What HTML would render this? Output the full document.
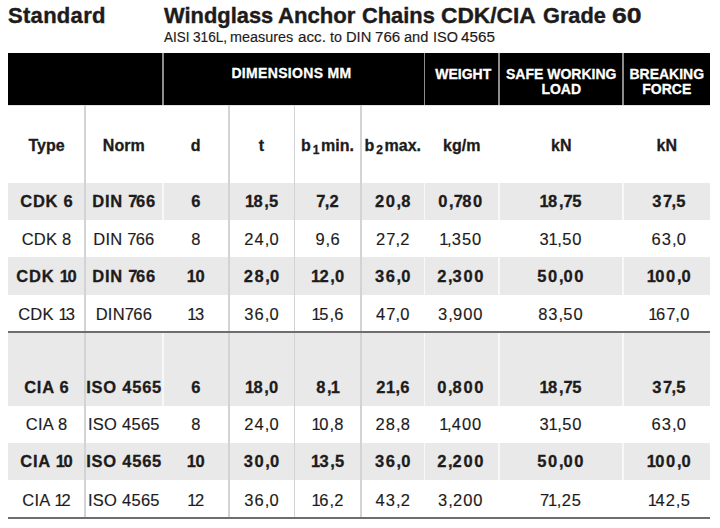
<!DOCTYPE html>
<html><head><meta charset="utf-8"><style>
html,body{margin:0;padding:0;background:#fff;width:720px;height:528px;overflow:hidden;position:relative}
body>div{position:absolute}
.t{font-family:"Liberation Sans",sans-serif;text-align:center;white-space:nowrap}
sub{font-size:0.75em;vertical-align:baseline;position:relative;top:0.3em;line-height:0;margin:0 1.5px 0 2px}
</style></head><body>
<div style="left:8px;top:53px;width:702px;height:52px;background:#000;"></div>
<div style="left:8px;top:105px;width:702px;height:1px;background:#e4e4e4;"></div>
<div style="left:8px;top:183px;width:702px;height:37px;background:#e9e9e9;"></div>
<div style="left:8px;top:257px;width:702px;height:37.5px;background:#e9e9e9;"></div>
<div style="left:8px;top:333px;width:702px;height:72.5px;background:#e9e9e9;"></div>
<div style="left:8px;top:443px;width:702px;height:37px;background:#e9e9e9;"></div>
<div style="left:84px;top:105px;width:2px;height:412px;background:#d2d3d7;"></div>
<div style="left:228px;top:105px;width:2px;height:412px;background:#d2d3d7;"></div>
<div style="left:293.8px;top:105px;width:1.4px;height:412px;background:#d2d3d7;"></div>
<div style="left:360px;top:105px;width:1.6px;height:412px;background:#d2d3d7;"></div>
<div style="left:162px;top:53px;width:1.6px;height:52px;background:#8c8c8c;"></div>
<div style="left:162px;top:183px;width:1.6px;height:37px;background:#f8f8f8;"></div>
<div style="left:162px;top:333px;width:1.6px;height:72.5px;background:#f8f8f8;"></div>
<div style="left:424px;top:53px;width:1.2px;height:52px;background:#8c8c8c;"></div>
<div style="left:424px;top:183px;width:1.2px;height:37px;background:#f8f8f8;"></div>
<div style="left:424px;top:257px;width:1.2px;height:37.5px;background:#f8f8f8;"></div>
<div style="left:424px;top:333px;width:1.2px;height:72.5px;background:#f8f8f8;"></div>
<div style="left:424px;top:443px;width:1.2px;height:37px;background:#f8f8f8;"></div>
<div style="left:498px;top:53px;width:1.8px;height:52px;background:#8c8c8c;"></div>
<div style="left:498px;top:183px;width:1.8px;height:37px;background:#f8f8f8;"></div>
<div style="left:498px;top:257px;width:1.8px;height:37.5px;background:#f8f8f8;"></div>
<div style="left:498px;top:333px;width:1.8px;height:72.5px;background:#f8f8f8;"></div>
<div style="left:498px;top:443px;width:1.8px;height:37px;background:#f8f8f8;"></div>
<div style="left:622px;top:53px;width:1.8px;height:52px;background:#8c8c8c;"></div>
<div style="left:622px;top:183px;width:1.8px;height:37px;background:#f8f8f8;"></div>
<div style="left:622px;top:257px;width:1.8px;height:37.5px;background:#f8f8f8;"></div>
<div style="left:622px;top:333px;width:1.8px;height:72.5px;background:#f8f8f8;"></div>
<div style="left:622px;top:443px;width:1.8px;height:37px;background:#f8f8f8;"></div>
<div style="left:8px;top:331px;width:702px;height:2px;background:#6e6e6e;"></div>
<div style="left:8px;top:517px;width:702px;height:2px;background:#6e6e6e;"></div>
<div class="t" style="left:8px;top:5.3px;white-space:nowrap;font-size:22px;line-height:22px;font-weight:700;color:#1d1b1b;text-align:left;letter-spacing:0.3px;-webkit-text-stroke:0.4px #1d1b1b;">Standard</div>
<div class="t" style="left:163.50px;top:5.4px;font-size:22px;line-height:22px;font-weight:700;color:#1d1b1b;text-align:left;transform:scaleX(0.9945);transform-origin:0 0;-webkit-text-stroke:0.4px #1d1b1b;">Windglass</div>
<div class="t" style="left:277.99px;top:5.4px;font-size:22px;line-height:22px;font-weight:700;color:#1d1b1b;text-align:left;transform:scaleX(1.0053);transform-origin:0 0;-webkit-text-stroke:0.4px #1d1b1b;">Anchor</div>
<div class="t" style="left:361.71px;top:5.4px;font-size:22px;line-height:22px;font-weight:700;color:#1d1b1b;text-align:left;transform:scaleX(0.9931);transform-origin:0 0;-webkit-text-stroke:0.4px #1d1b1b;">Chains</div>
<div class="t" style="left:440.97px;top:5.4px;font-size:22px;line-height:22px;font-weight:700;color:#1d1b1b;text-align:left;transform:scaleX(1.0333);transform-origin:0 0;-webkit-text-stroke:0.4px #1d1b1b;">CDK/CIA</div>
<div class="t" style="left:542.76px;top:5.4px;font-size:22px;line-height:22px;font-weight:700;color:#1d1b1b;text-align:left;transform:scaleX(0.9879);transform-origin:0 0;-webkit-text-stroke:0.4px #1d1b1b;">Grade</div>
<div class="t" style="left:611.59px;top:5.4px;font-size:22px;line-height:22px;font-weight:700;color:#1d1b1b;text-align:left;transform:scaleX(1.2087);transform-origin:0 0;-webkit-text-stroke:0.4px #1d1b1b;">60</div>
<div class="t" style="left:163.75px;top:29.5px;font-size:14px;line-height:14px;font-weight:400;color:#1d1b1b;text-align:left;transform:scaleX(0.9600);transform-origin:0 0;-webkit-text-stroke:0.15px #1d1b1b;">AISI</div>
<div class="t" style="left:192.53px;top:29.5px;font-size:14px;line-height:14px;font-weight:400;color:#1d1b1b;text-align:left;transform:scaleX(0.9727);transform-origin:0 0;-webkit-text-stroke:0.15px #1d1b1b;">316L,</div>
<div class="t" style="left:230.47px;top:29.5px;font-size:14px;line-height:14px;font-weight:400;color:#1d1b1b;text-align:left;transform:scaleX(1.0267);transform-origin:0 0;-webkit-text-stroke:0.15px #1d1b1b;">measures</div>
<div class="t" style="left:298.31px;top:29.5px;font-size:14px;line-height:14px;font-weight:400;color:#1d1b1b;text-align:left;transform:scaleX(1.0870);transform-origin:0 0;-webkit-text-stroke:0.15px #1d1b1b;">acc.</div>
<div class="t" style="left:330.00px;top:29.5px;font-size:14px;line-height:14px;font-weight:400;color:#1d1b1b;text-align:left;transform:scaleX(1.0227);transform-origin:0 0;-webkit-text-stroke:0.15px #1d1b1b;">to</div>
<div class="t" style="left:345.85px;top:29.5px;font-size:14px;line-height:14px;font-weight:400;color:#1d1b1b;text-align:left;transform:scaleX(1.0500);transform-origin:0 0;-webkit-text-stroke:0.15px #1d1b1b;">DIN</div>
<div class="t" style="left:375.17px;top:29.5px;font-size:14px;line-height:14px;font-weight:400;color:#1d1b1b;text-align:left;transform:scaleX(1.0795);transform-origin:0 0;-webkit-text-stroke:0.15px #1d1b1b;">766</div>
<div class="t" style="left:403.96px;top:29.5px;font-size:14px;line-height:14px;font-weight:400;color:#1d1b1b;text-align:left;transform:scaleX(1.0429);transform-origin:0 0;-webkit-text-stroke:0.15px #1d1b1b;">and</div>
<div class="t" style="left:432.72px;top:29.5px;font-size:14px;line-height:14px;font-weight:400;color:#1d1b1b;text-align:left;transform:scaleX(1.0326);transform-origin:0 0;-webkit-text-stroke:0.15px #1d1b1b;">ISO</div>
<div class="t" style="left:461.25px;top:29.5px;font-size:14px;line-height:14px;font-weight:400;color:#1d1b1b;text-align:left;transform:scaleX(1.0887);transform-origin:0 0;-webkit-text-stroke:0.15px #1d1b1b;">4565</div>
<div class="t" style="left:158.5px;top:66.15px;width:266.0px;font-size:14px;line-height:14px;font-weight:700;color:#ffffff;letter-spacing:0.33px;text-indent:0px;-webkit-text-stroke:0.3px #ffffff;">DIMENSIONS MM</div>
<div class="t" style="left:427.5px;top:67.15px;width:71.5px;font-size:14px;line-height:14px;font-weight:700;color:#ffffff;letter-spacing:0px;text-indent:0px;-webkit-text-stroke:0.3px #ffffff;">WEIGHT</div>
<div class="t" style="left:499px;top:67.35px;width:124.5px;font-size:14px;line-height:14px;font-weight:700;color:#ffffff;letter-spacing:0px;text-indent:0px;-webkit-text-stroke:0.3px #ffffff;">SAFE WORKING</div>
<div class="t" style="left:499px;top:81.85px;width:124.5px;font-size:14px;line-height:14px;font-weight:700;color:#ffffff;letter-spacing:0px;text-indent:0px;-webkit-text-stroke:0.3px #ffffff;">LOAD</div>
<div class="t" style="left:623.5px;top:67.35px;width:86.5px;font-size:14px;line-height:14px;font-weight:700;color:#ffffff;letter-spacing:0px;text-indent:0px;-webkit-text-stroke:0.3px #ffffff;">BREAKING</div>
<div class="t" style="left:623.5px;top:81.85px;width:86.5px;font-size:14px;line-height:14px;font-weight:700;color:#ffffff;letter-spacing:0px;text-indent:0px;-webkit-text-stroke:0.3px #ffffff;">FORCE</div>
<div class="t" style="left:8px;top:137.76px;width:77px;font-size:16px;line-height:16px;font-weight:700;color:#1d1b1b;letter-spacing:0px;text-indent:0px;-webkit-text-stroke:0.3px #1d1b1b;">Type</div>
<div class="t" style="left:85px;top:137.76px;width:77.5px;font-size:16px;line-height:16px;font-weight:700;color:#1d1b1b;letter-spacing:0px;text-indent:0px;-webkit-text-stroke:0.3px #1d1b1b;">Norm</div>
<div class="t" style="left:162.5px;top:137.76px;width:66.5px;font-size:16px;line-height:16px;font-weight:700;color:#1d1b1b;letter-spacing:0px;text-indent:0px;-webkit-text-stroke:0.3px #1d1b1b;">d</div>
<div class="t" style="left:229px;top:137.76px;width:65px;font-size:16px;line-height:16px;font-weight:700;color:#1d1b1b;letter-spacing:0px;text-indent:0px;-webkit-text-stroke:0.3px #1d1b1b;">t</div>
<div class="t" style="left:294px;top:137.76px;width:67px;font-size:16px;line-height:16px;font-weight:700;color:#1d1b1b;letter-spacing:0px;text-indent:0px;-webkit-text-stroke:0.3px #1d1b1b;">b<sub>1</sub>min.</div>
<div class="t" style="left:361px;top:137.76px;width:63.5px;font-size:16px;line-height:16px;font-weight:700;color:#1d1b1b;letter-spacing:0px;text-indent:0px;-webkit-text-stroke:0.3px #1d1b1b;">b<sub>2</sub>max.</div>
<div class="t" style="left:424.5px;top:137.76px;width:74.5px;font-size:16px;line-height:16px;font-weight:700;color:#1d1b1b;letter-spacing:0px;text-indent:0px;-webkit-text-stroke:0.3px #1d1b1b;">kg/m</div>
<div class="t" style="left:499px;top:137.76px;width:124.5px;font-size:16px;line-height:16px;font-weight:700;color:#1d1b1b;letter-spacing:0px;text-indent:0px;-webkit-text-stroke:0.3px #1d1b1b;">kN</div>
<div class="t" style="left:623.5px;top:137.76px;width:86.5px;font-size:16px;line-height:16px;font-weight:700;color:#1d1b1b;letter-spacing:0px;text-indent:0px;-webkit-text-stroke:0.3px #1d1b1b;">kN</div>
<div class="t" style="left:8px;top:192.93px;width:77px;font-size:16.5px;line-height:16.5px;font-weight:700;color:#1d1b1b;letter-spacing:0.75px;text-indent:0.75px;-webkit-text-stroke:0.3px #1d1b1b;">CDK 6</div>
<div class="t" style="left:85px;top:192.93px;width:77.5px;font-size:16.5px;line-height:16.5px;font-weight:700;color:#1d1b1b;letter-spacing:0.75px;text-indent:0.75px;-webkit-text-stroke:0.3px #1d1b1b;">DIN <span style="letter-spacing:-1.45px;margin-left:0px">7</span>66</div>
<div class="t" style="left:162.5px;top:192.93px;width:66.5px;font-size:16.5px;line-height:16.5px;font-weight:700;color:#1d1b1b;letter-spacing:1.6px;text-indent:1.6px;-webkit-text-stroke:0.3px #1d1b1b;">6</div>
<div class="t" style="left:229px;top:192.93px;width:65px;font-size:16.5px;line-height:16.5px;font-weight:700;color:#1d1b1b;letter-spacing:1.6px;text-indent:1.6px;-webkit-text-stroke:0.3px #1d1b1b;"><span style="letter-spacing:-0.60px;margin-left:0px">1</span>8<span style="letter-spacing:0.10px;margin-left:0px">,</span>5</div>
<div class="t" style="left:294px;top:192.93px;width:67px;font-size:16.5px;line-height:16.5px;font-weight:700;color:#1d1b1b;letter-spacing:1.6px;text-indent:1.6px;-webkit-text-stroke:0.3px #1d1b1b;"><span style="letter-spacing:-0.60px;margin-left:0px">7</span><span style="letter-spacing:0.10px;margin-left:0px">,</span>2</div>
<div class="t" style="left:361px;top:192.93px;width:63.5px;font-size:16.5px;line-height:16.5px;font-weight:700;color:#1d1b1b;letter-spacing:1.6px;text-indent:1.6px;-webkit-text-stroke:0.3px #1d1b1b;">20<span style="letter-spacing:0.10px;margin-left:0px">,</span>8</div>
<div class="t" style="left:423.0px;top:192.93px;width:74.5px;font-size:16.5px;line-height:16.5px;font-weight:700;color:#1d1b1b;letter-spacing:1.6px;text-indent:1.6px;-webkit-text-stroke:0.3px #1d1b1b;">0<span style="letter-spacing:0.10px;margin-left:0px">,</span><span style="letter-spacing:-0.60px;margin-left:0px">7</span>80</div>
<div class="t" style="left:498.2px;top:192.93px;width:124.50000000000006px;font-size:16.5px;line-height:16.5px;font-weight:700;color:#1d1b1b;letter-spacing:1.6px;text-indent:1.6px;-webkit-text-stroke:0.3px #1d1b1b;"><span style="letter-spacing:-0.60px;margin-left:0px">1</span>8<span style="letter-spacing:0.10px;margin-left:0px">,</span><span style="letter-spacing:-0.60px;margin-left:0px">7</span>5</div>
<div class="t" style="left:625.5px;top:192.93px;width:86.5px;font-size:16.5px;line-height:16.5px;font-weight:700;color:#1d1b1b;letter-spacing:1.6px;text-indent:1.6px;-webkit-text-stroke:0.3px #1d1b1b;">3<span style="letter-spacing:-0.60px;margin-left:0px">7</span><span style="letter-spacing:0.10px;margin-left:0px">,</span>5</div>
<div class="t" style="left:8px;top:230.63px;width:77px;font-size:16.5px;line-height:16.5px;font-weight:400;color:#1d1b1b;letter-spacing:0.25px;text-indent:0.25px;-webkit-text-stroke:0.15px #1d1b1b;">CDK 8</div>
<div class="t" style="left:85px;top:230.63px;width:77.5px;font-size:16.5px;line-height:16.5px;font-weight:400;color:#1d1b1b;letter-spacing:0.25px;text-indent:0.25px;-webkit-text-stroke:0.15px #1d1b1b;">DIN <span style="letter-spacing:-0.75px;margin-left:0px">7</span>66</div>
<div class="t" style="left:162.5px;top:230.63px;width:66.5px;font-size:16.5px;line-height:16.5px;font-weight:400;color:#1d1b1b;letter-spacing:1.0px;text-indent:1.0px;-webkit-text-stroke:0.15px #1d1b1b;">8</div>
<div class="t" style="left:229px;top:230.63px;width:65px;font-size:16.5px;line-height:16.5px;font-weight:400;color:#1d1b1b;letter-spacing:1.0px;text-indent:1.0px;-webkit-text-stroke:0.15px #1d1b1b;">24<span style="letter-spacing:0.20px;margin-left:0px">,</span>0</div>
<div class="t" style="left:294px;top:230.63px;width:67px;font-size:16.5px;line-height:16.5px;font-weight:400;color:#1d1b1b;letter-spacing:1.0px;text-indent:1.0px;-webkit-text-stroke:0.15px #1d1b1b;">9<span style="letter-spacing:0.20px;margin-left:0px">,</span>6</div>
<div class="t" style="left:361px;top:230.63px;width:63.5px;font-size:16.5px;line-height:16.5px;font-weight:400;color:#1d1b1b;letter-spacing:1.0px;text-indent:1.0px;-webkit-text-stroke:0.15px #1d1b1b;">2<span style="letter-spacing:0.00px;margin-left:0px">7</span><span style="letter-spacing:0.20px;margin-left:0px">,</span>2</div>
<div class="t" style="left:423.0px;top:230.63px;width:74.5px;font-size:16.5px;line-height:16.5px;font-weight:400;color:#1d1b1b;letter-spacing:1.0px;text-indent:1.0px;-webkit-text-stroke:0.15px #1d1b1b;"><span style="letter-spacing:-1.40px;margin-left:0px">1</span><span style="letter-spacing:0.20px;margin-left:0px">,</span>350</div>
<div class="t" style="left:498.2px;top:230.63px;width:124.50000000000006px;font-size:16.5px;line-height:16.5px;font-weight:400;color:#1d1b1b;letter-spacing:1.0px;text-indent:1.0px;-webkit-text-stroke:0.15px #1d1b1b;">3<span style="letter-spacing:-0.40px;margin-left:-1.0px">1</span><span style="letter-spacing:0.20px;margin-left:0px">,</span>50</div>
<div class="t" style="left:625.5px;top:230.63px;width:86.5px;font-size:16.5px;line-height:16.5px;font-weight:400;color:#1d1b1b;letter-spacing:1.0px;text-indent:1.0px;-webkit-text-stroke:0.15px #1d1b1b;">63<span style="letter-spacing:0.20px;margin-left:0px">,</span>0</div>
<div class="t" style="left:8px;top:267.83px;width:77px;font-size:16.5px;line-height:16.5px;font-weight:700;color:#1d1b1b;letter-spacing:0.75px;text-indent:0.75px;-webkit-text-stroke:0.3px #1d1b1b;">CDK <span style="letter-spacing:-1.45px;margin-left:0px">1</span>0</div>
<div class="t" style="left:85px;top:267.83px;width:77.5px;font-size:16.5px;line-height:16.5px;font-weight:700;color:#1d1b1b;letter-spacing:0.75px;text-indent:0.75px;-webkit-text-stroke:0.3px #1d1b1b;">DIN <span style="letter-spacing:-1.45px;margin-left:0px">7</span>66</div>
<div class="t" style="left:162.5px;top:267.83px;width:66.5px;font-size:16.5px;line-height:16.5px;font-weight:700;color:#1d1b1b;letter-spacing:1.6px;text-indent:1.6px;-webkit-text-stroke:0.3px #1d1b1b;"><span style="letter-spacing:-0.60px;margin-left:0px">1</span>0</div>
<div class="t" style="left:229px;top:267.83px;width:65px;font-size:16.5px;line-height:16.5px;font-weight:700;color:#1d1b1b;letter-spacing:1.6px;text-indent:1.6px;-webkit-text-stroke:0.3px #1d1b1b;">28<span style="letter-spacing:0.10px;margin-left:0px">,</span>0</div>
<div class="t" style="left:294px;top:267.83px;width:67px;font-size:16.5px;line-height:16.5px;font-weight:700;color:#1d1b1b;letter-spacing:1.6px;text-indent:1.6px;-webkit-text-stroke:0.3px #1d1b1b;"><span style="letter-spacing:-0.60px;margin-left:0px">1</span>2<span style="letter-spacing:0.10px;margin-left:0px">,</span>0</div>
<div class="t" style="left:361px;top:267.83px;width:63.5px;font-size:16.5px;line-height:16.5px;font-weight:700;color:#1d1b1b;letter-spacing:1.6px;text-indent:1.6px;-webkit-text-stroke:0.3px #1d1b1b;">36<span style="letter-spacing:0.10px;margin-left:0px">,</span>0</div>
<div class="t" style="left:423.0px;top:267.83px;width:74.5px;font-size:16.5px;line-height:16.5px;font-weight:700;color:#1d1b1b;letter-spacing:1.6px;text-indent:1.6px;-webkit-text-stroke:0.3px #1d1b1b;">2<span style="letter-spacing:0.10px;margin-left:0px">,</span>300</div>
<div class="t" style="left:498.2px;top:267.83px;width:124.50000000000006px;font-size:16.5px;line-height:16.5px;font-weight:700;color:#1d1b1b;letter-spacing:1.6px;text-indent:1.6px;-webkit-text-stroke:0.3px #1d1b1b;">50<span style="letter-spacing:0.10px;margin-left:0px">,</span>00</div>
<div class="t" style="left:625.5px;top:267.83px;width:86.5px;font-size:16.5px;line-height:16.5px;font-weight:700;color:#1d1b1b;letter-spacing:1.6px;text-indent:1.6px;-webkit-text-stroke:0.3px #1d1b1b;"><span style="letter-spacing:-0.60px;margin-left:0px">1</span>00<span style="letter-spacing:0.10px;margin-left:0px">,</span>0</div>
<div class="t" style="left:8px;top:305.63px;width:77px;font-size:16.5px;line-height:16.5px;font-weight:400;color:#1d1b1b;letter-spacing:0.25px;text-indent:0.25px;-webkit-text-stroke:0.15px #1d1b1b;">CDK <span style="letter-spacing:-2.15px;margin-left:0px">1</span>3</div>
<div class="t" style="left:85px;top:305.63px;width:77.5px;font-size:16.5px;line-height:16.5px;font-weight:400;color:#1d1b1b;letter-spacing:0.25px;text-indent:0.25px;-webkit-text-stroke:0.15px #1d1b1b;">DIN<span style="letter-spacing:-0.75px;margin-left:0px">7</span>66</div>
<div class="t" style="left:162.5px;top:305.63px;width:66.5px;font-size:16.5px;line-height:16.5px;font-weight:400;color:#1d1b1b;letter-spacing:1.0px;text-indent:1.0px;-webkit-text-stroke:0.15px #1d1b1b;"><span style="letter-spacing:-1.40px;margin-left:0px">1</span>3</div>
<div class="t" style="left:229px;top:305.63px;width:65px;font-size:16.5px;line-height:16.5px;font-weight:400;color:#1d1b1b;letter-spacing:1.0px;text-indent:1.0px;-webkit-text-stroke:0.15px #1d1b1b;">36<span style="letter-spacing:0.20px;margin-left:0px">,</span>0</div>
<div class="t" style="left:294px;top:305.63px;width:67px;font-size:16.5px;line-height:16.5px;font-weight:400;color:#1d1b1b;letter-spacing:1.0px;text-indent:1.0px;-webkit-text-stroke:0.15px #1d1b1b;"><span style="letter-spacing:-1.40px;margin-left:0px">1</span>5<span style="letter-spacing:0.20px;margin-left:0px">,</span>6</div>
<div class="t" style="left:361px;top:305.63px;width:63.5px;font-size:16.5px;line-height:16.5px;font-weight:400;color:#1d1b1b;letter-spacing:1.0px;text-indent:1.0px;-webkit-text-stroke:0.15px #1d1b1b;">4<span style="letter-spacing:0.00px;margin-left:0px">7</span><span style="letter-spacing:0.20px;margin-left:0px">,</span>0</div>
<div class="t" style="left:423.0px;top:305.63px;width:74.5px;font-size:16.5px;line-height:16.5px;font-weight:400;color:#1d1b1b;letter-spacing:1.0px;text-indent:1.0px;-webkit-text-stroke:0.15px #1d1b1b;">3<span style="letter-spacing:0.20px;margin-left:0px">,</span>900</div>
<div class="t" style="left:498.2px;top:305.63px;width:124.50000000000006px;font-size:16.5px;line-height:16.5px;font-weight:400;color:#1d1b1b;letter-spacing:1.0px;text-indent:1.0px;-webkit-text-stroke:0.15px #1d1b1b;">83<span style="letter-spacing:0.20px;margin-left:0px">,</span>50</div>
<div class="t" style="left:625.5px;top:305.63px;width:86.5px;font-size:16.5px;line-height:16.5px;font-weight:400;color:#1d1b1b;letter-spacing:1.0px;text-indent:1.0px;-webkit-text-stroke:0.15px #1d1b1b;"><span style="letter-spacing:-1.40px;margin-left:0px">1</span>6<span style="letter-spacing:0.00px;margin-left:0px">7</span><span style="letter-spacing:0.20px;margin-left:0px">,</span>0</div>
<div class="t" style="left:8px;top:378.93px;width:77px;font-size:16.5px;line-height:16.5px;font-weight:700;color:#1d1b1b;letter-spacing:0.75px;text-indent:0.75px;-webkit-text-stroke:0.3px #1d1b1b;">CIA 6</div>
<div class="t" style="left:85px;top:378.93px;width:77.5px;font-size:16.5px;line-height:16.5px;font-weight:700;color:#1d1b1b;letter-spacing:0.75px;text-indent:0.75px;-webkit-text-stroke:0.3px #1d1b1b;">ISO 4565</div>
<div class="t" style="left:162.5px;top:378.93px;width:66.5px;font-size:16.5px;line-height:16.5px;font-weight:700;color:#1d1b1b;letter-spacing:1.6px;text-indent:1.6px;-webkit-text-stroke:0.3px #1d1b1b;">6</div>
<div class="t" style="left:229px;top:378.93px;width:65px;font-size:16.5px;line-height:16.5px;font-weight:700;color:#1d1b1b;letter-spacing:1.6px;text-indent:1.6px;-webkit-text-stroke:0.3px #1d1b1b;"><span style="letter-spacing:-0.60px;margin-left:0px">1</span>8<span style="letter-spacing:0.10px;margin-left:0px">,</span>0</div>
<div class="t" style="left:294px;top:378.93px;width:67px;font-size:16.5px;line-height:16.5px;font-weight:700;color:#1d1b1b;letter-spacing:1.6px;text-indent:1.6px;-webkit-text-stroke:0.3px #1d1b1b;">8<span style="letter-spacing:0.10px;margin-left:0px">,</span><span style="letter-spacing:0.40px;margin-left:-1.0px">1</span></div>
<div class="t" style="left:361px;top:378.93px;width:63.5px;font-size:16.5px;line-height:16.5px;font-weight:700;color:#1d1b1b;letter-spacing:1.6px;text-indent:1.6px;-webkit-text-stroke:0.3px #1d1b1b;">2<span style="letter-spacing:0.40px;margin-left:-1.0px">1</span><span style="letter-spacing:0.10px;margin-left:0px">,</span>6</div>
<div class="t" style="left:423.0px;top:378.93px;width:74.5px;font-size:16.5px;line-height:16.5px;font-weight:700;color:#1d1b1b;letter-spacing:1.6px;text-indent:1.6px;-webkit-text-stroke:0.3px #1d1b1b;">0<span style="letter-spacing:0.10px;margin-left:0px">,</span>800</div>
<div class="t" style="left:498.2px;top:378.93px;width:124.50000000000006px;font-size:16.5px;line-height:16.5px;font-weight:700;color:#1d1b1b;letter-spacing:1.6px;text-indent:1.6px;-webkit-text-stroke:0.3px #1d1b1b;"><span style="letter-spacing:-0.60px;margin-left:0px">1</span>8<span style="letter-spacing:0.10px;margin-left:0px">,</span><span style="letter-spacing:-0.60px;margin-left:0px">7</span>5</div>
<div class="t" style="left:625.5px;top:378.93px;width:86.5px;font-size:16.5px;line-height:16.5px;font-weight:700;color:#1d1b1b;letter-spacing:1.6px;text-indent:1.6px;-webkit-text-stroke:0.3px #1d1b1b;">3<span style="letter-spacing:-0.60px;margin-left:0px">7</span><span style="letter-spacing:0.10px;margin-left:0px">,</span>5</div>
<div class="t" style="left:8px;top:416.43px;width:77px;font-size:16.5px;line-height:16.5px;font-weight:400;color:#1d1b1b;letter-spacing:0.25px;text-indent:0.25px;-webkit-text-stroke:0.15px #1d1b1b;">CIA 8</div>
<div class="t" style="left:85px;top:416.43px;width:77.5px;font-size:16.5px;line-height:16.5px;font-weight:400;color:#1d1b1b;letter-spacing:0.25px;text-indent:0.25px;-webkit-text-stroke:0.15px #1d1b1b;">ISO 4565</div>
<div class="t" style="left:162.5px;top:416.43px;width:66.5px;font-size:16.5px;line-height:16.5px;font-weight:400;color:#1d1b1b;letter-spacing:1.0px;text-indent:1.0px;-webkit-text-stroke:0.15px #1d1b1b;">8</div>
<div class="t" style="left:229px;top:416.43px;width:65px;font-size:16.5px;line-height:16.5px;font-weight:400;color:#1d1b1b;letter-spacing:1.0px;text-indent:1.0px;-webkit-text-stroke:0.15px #1d1b1b;">24<span style="letter-spacing:0.20px;margin-left:0px">,</span>0</div>
<div class="t" style="left:294px;top:416.43px;width:67px;font-size:16.5px;line-height:16.5px;font-weight:400;color:#1d1b1b;letter-spacing:1.0px;text-indent:1.0px;-webkit-text-stroke:0.15px #1d1b1b;"><span style="letter-spacing:-1.40px;margin-left:0px">1</span>0<span style="letter-spacing:0.20px;margin-left:0px">,</span>8</div>
<div class="t" style="left:361px;top:416.43px;width:63.5px;font-size:16.5px;line-height:16.5px;font-weight:400;color:#1d1b1b;letter-spacing:1.0px;text-indent:1.0px;-webkit-text-stroke:0.15px #1d1b1b;">28<span style="letter-spacing:0.20px;margin-left:0px">,</span>8</div>
<div class="t" style="left:423.0px;top:416.43px;width:74.5px;font-size:16.5px;line-height:16.5px;font-weight:400;color:#1d1b1b;letter-spacing:1.0px;text-indent:1.0px;-webkit-text-stroke:0.15px #1d1b1b;"><span style="letter-spacing:-1.40px;margin-left:0px">1</span><span style="letter-spacing:0.20px;margin-left:0px">,</span>400</div>
<div class="t" style="left:498.2px;top:416.43px;width:124.50000000000006px;font-size:16.5px;line-height:16.5px;font-weight:400;color:#1d1b1b;letter-spacing:1.0px;text-indent:1.0px;-webkit-text-stroke:0.15px #1d1b1b;">3<span style="letter-spacing:-0.40px;margin-left:-1.0px">1</span><span style="letter-spacing:0.20px;margin-left:0px">,</span>50</div>
<div class="t" style="left:625.5px;top:416.43px;width:86.5px;font-size:16.5px;line-height:16.5px;font-weight:400;color:#1d1b1b;letter-spacing:1.0px;text-indent:1.0px;-webkit-text-stroke:0.15px #1d1b1b;">63<span style="letter-spacing:0.20px;margin-left:0px">,</span>0</div>
<div class="t" style="left:8px;top:453.23px;width:77px;font-size:16.5px;line-height:16.5px;font-weight:700;color:#1d1b1b;letter-spacing:0.75px;text-indent:0.75px;-webkit-text-stroke:0.3px #1d1b1b;">CIA <span style="letter-spacing:-1.45px;margin-left:0px">1</span>0</div>
<div class="t" style="left:85px;top:453.23px;width:77.5px;font-size:16.5px;line-height:16.5px;font-weight:700;color:#1d1b1b;letter-spacing:0.75px;text-indent:0.75px;-webkit-text-stroke:0.3px #1d1b1b;">ISO 4565</div>
<div class="t" style="left:162.5px;top:453.23px;width:66.5px;font-size:16.5px;line-height:16.5px;font-weight:700;color:#1d1b1b;letter-spacing:1.6px;text-indent:1.6px;-webkit-text-stroke:0.3px #1d1b1b;"><span style="letter-spacing:-0.60px;margin-left:0px">1</span>0</div>
<div class="t" style="left:229px;top:453.23px;width:65px;font-size:16.5px;line-height:16.5px;font-weight:700;color:#1d1b1b;letter-spacing:1.6px;text-indent:1.6px;-webkit-text-stroke:0.3px #1d1b1b;">30<span style="letter-spacing:0.10px;margin-left:0px">,</span>0</div>
<div class="t" style="left:294px;top:453.23px;width:67px;font-size:16.5px;line-height:16.5px;font-weight:700;color:#1d1b1b;letter-spacing:1.6px;text-indent:1.6px;-webkit-text-stroke:0.3px #1d1b1b;"><span style="letter-spacing:-0.60px;margin-left:0px">1</span>3<span style="letter-spacing:0.10px;margin-left:0px">,</span>5</div>
<div class="t" style="left:361px;top:453.23px;width:63.5px;font-size:16.5px;line-height:16.5px;font-weight:700;color:#1d1b1b;letter-spacing:1.6px;text-indent:1.6px;-webkit-text-stroke:0.3px #1d1b1b;">36<span style="letter-spacing:0.10px;margin-left:0px">,</span>0</div>
<div class="t" style="left:423.0px;top:453.23px;width:74.5px;font-size:16.5px;line-height:16.5px;font-weight:700;color:#1d1b1b;letter-spacing:1.6px;text-indent:1.6px;-webkit-text-stroke:0.3px #1d1b1b;">2<span style="letter-spacing:0.10px;margin-left:0px">,</span>200</div>
<div class="t" style="left:498.2px;top:453.23px;width:124.50000000000006px;font-size:16.5px;line-height:16.5px;font-weight:700;color:#1d1b1b;letter-spacing:1.6px;text-indent:1.6px;-webkit-text-stroke:0.3px #1d1b1b;">50<span style="letter-spacing:0.10px;margin-left:0px">,</span>00</div>
<div class="t" style="left:625.5px;top:453.23px;width:86.5px;font-size:16.5px;line-height:16.5px;font-weight:700;color:#1d1b1b;letter-spacing:1.6px;text-indent:1.6px;-webkit-text-stroke:0.3px #1d1b1b;"><span style="letter-spacing:-0.60px;margin-left:0px">1</span>00<span style="letter-spacing:0.10px;margin-left:0px">,</span>0</div>
<div class="t" style="left:8px;top:491.73px;width:77px;font-size:16.5px;line-height:16.5px;font-weight:400;color:#1d1b1b;letter-spacing:0.25px;text-indent:0.25px;-webkit-text-stroke:0.15px #1d1b1b;">CIA <span style="letter-spacing:-2.15px;margin-left:0px">1</span>2</div>
<div class="t" style="left:85px;top:491.73px;width:77.5px;font-size:16.5px;line-height:16.5px;font-weight:400;color:#1d1b1b;letter-spacing:0.25px;text-indent:0.25px;-webkit-text-stroke:0.15px #1d1b1b;">ISO 4565</div>
<div class="t" style="left:162.5px;top:491.73px;width:66.5px;font-size:16.5px;line-height:16.5px;font-weight:400;color:#1d1b1b;letter-spacing:1.0px;text-indent:1.0px;-webkit-text-stroke:0.15px #1d1b1b;"><span style="letter-spacing:-1.40px;margin-left:0px">1</span>2</div>
<div class="t" style="left:229px;top:491.73px;width:65px;font-size:16.5px;line-height:16.5px;font-weight:400;color:#1d1b1b;letter-spacing:1.0px;text-indent:1.0px;-webkit-text-stroke:0.15px #1d1b1b;">36<span style="letter-spacing:0.20px;margin-left:0px">,</span>0</div>
<div class="t" style="left:294px;top:491.73px;width:67px;font-size:16.5px;line-height:16.5px;font-weight:400;color:#1d1b1b;letter-spacing:1.0px;text-indent:1.0px;-webkit-text-stroke:0.15px #1d1b1b;"><span style="letter-spacing:-1.40px;margin-left:0px">1</span>6<span style="letter-spacing:0.20px;margin-left:0px">,</span>2</div>
<div class="t" style="left:361px;top:491.73px;width:63.5px;font-size:16.5px;line-height:16.5px;font-weight:400;color:#1d1b1b;letter-spacing:1.0px;text-indent:1.0px;-webkit-text-stroke:0.15px #1d1b1b;">43<span style="letter-spacing:0.20px;margin-left:0px">,</span>2</div>
<div class="t" style="left:423.0px;top:491.73px;width:74.5px;font-size:16.5px;line-height:16.5px;font-weight:400;color:#1d1b1b;letter-spacing:1.0px;text-indent:1.0px;-webkit-text-stroke:0.15px #1d1b1b;">3<span style="letter-spacing:0.20px;margin-left:0px">,</span>200</div>
<div class="t" style="left:498.2px;top:491.73px;width:124.50000000000006px;font-size:16.5px;line-height:16.5px;font-weight:400;color:#1d1b1b;letter-spacing:1.0px;text-indent:1.0px;-webkit-text-stroke:0.15px #1d1b1b;"><span style="letter-spacing:0.00px;margin-left:0px">7</span><span style="letter-spacing:-0.40px;margin-left:-1.0px">1</span><span style="letter-spacing:0.20px;margin-left:0px">,</span>25</div>
<div class="t" style="left:625.5px;top:491.73px;width:86.5px;font-size:16.5px;line-height:16.5px;font-weight:400;color:#1d1b1b;letter-spacing:1.0px;text-indent:1.0px;-webkit-text-stroke:0.15px #1d1b1b;"><span style="letter-spacing:-1.40px;margin-left:0px">1</span>42<span style="letter-spacing:0.20px;margin-left:0px">,</span>5</div>
</body></html>
